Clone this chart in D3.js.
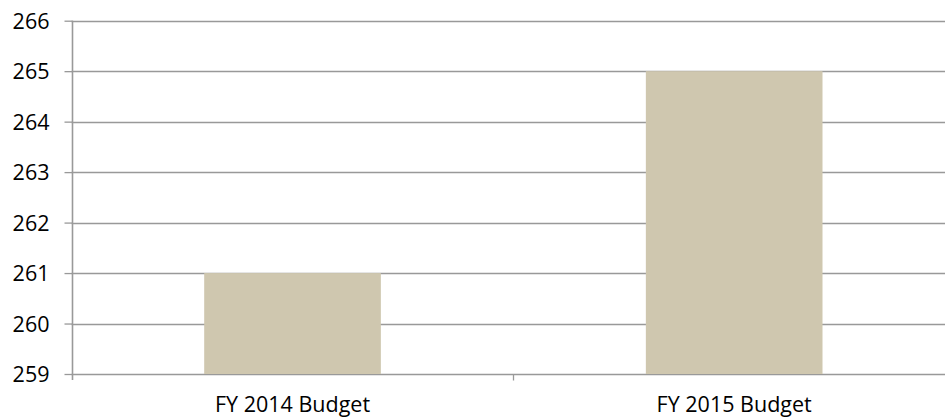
<!DOCTYPE html>
<html>
<head>
<meta charset="utf-8">
<script src="https://cdn.jsdelivr.net/npm/d3@7"></script>
<style>
  html, body { margin: 0; padding: 0; background: #fff; overflow: hidden; }
  svg { display: block; }
  text { font-family: "Open Sans", "Noto Sans", sans-serif; fill: #000; }
</style>
</head>
<body>
<svg id="chart" width="945" height="418"></svg>
<script>
// Budget figures per fiscal year
const categories = ["FY 2014 Budget", "FY 2015 Budget"];
const values = [261, 265];
const yTicks = [259, 260, 261, 262, 263, 264, 265, 266];

const width = 945, height = 418;
const margin = { top: 20.7, left: 71.7, bottom: 44 };
const plotRight = 955; // plot area runs slightly past the visible edge

const svg = d3.select("#chart");

const x = d3.scaleBand()
  .domain(categories)
  .range([margin.left, plotRight])
  .paddingInner(0.6)
  .paddingOuter(0.3);

const y = d3.scaleLinear()
  .domain([259, 266])
  .range([height - margin.bottom, margin.top]);

const gridColor = "#999999";

// horizontal gridlines
svg.append("g")
  .selectAll("line")
  .data(yTicks)
  .join("line")
  .attr("x1", margin.left)
  .attr("x2", plotRight)
  .attr("y1", d => Math.round(y(d)) + 0.5)
  .attr("y2", d => Math.round(y(d)) + 0.5)
  .attr("stroke", gridColor)
  .attr("stroke-width", 1.3);

// bars
svg.append("g")
  .selectAll("rect")
  .data(values)
  .join("rect")
  .attr("x", (d, i) => x(categories[i]))
  .attr("width", x.bandwidth())
  .attr("y", d => y(d))
  .attr("height", d => y(259) - y(d))
  .attr("fill", "#CFC7AF");

// y axis
const yAxis = d3.axisLeft(y)
  .tickValues(yTicks)
  .tickFormat(d3.format("d"))
  .tickSize(8)
  .tickPadding(15);

const gy = svg.append("g")
  .attr("transform", `translate(${Math.round(margin.left) + 0.5},0)`)
  .call(yAxis);
gy.select(".domain").remove();
gy.selectAll(".tick line").attr("stroke", gridColor).attr("stroke-width", 1.3);
gy.selectAll(".tick text")
  .style("font-size", "21.5px")
  .attr("dy", "0.35em");
gy.append("line")
  .attr("x1", 0).attr("x2", 0)
  .attr("y1", y(266)).attr("y2", y(259) + 6)
  .attr("stroke", gridColor)
  .attr("stroke-width", 1.6);

// x axis: boundary ticks between categories, labels centred under bars
const xBase = Math.round(y(259)) + 0.5;
const step = (plotRight - margin.left) / categories.length;
const xBoundaries = d3.range(categories.length + 1).map(i => margin.left + i * step);
svg.append("g")
  .selectAll("line")
  .data(xBoundaries.slice(1))
  .join("line")
  .attr("x1", d => Math.round(d) + 0.5)
  .attr("x2", d => Math.round(d) + 0.5)
  .attr("y1", xBase)
  .attr("y2", xBase + 6)
  .attr("stroke", gridColor)
  .attr("stroke-width", 1.3);

svg.append("g")
  .selectAll("text")
  .data(categories)
  .join("text")
  .attr("x", d => x(d) + x.bandwidth() / 2)
  .attr("y", 411.5)
  .attr("text-anchor", "middle")
  .style("font-size", "21.5px")
  .text(d => d);
</script>
</body>
</html>
